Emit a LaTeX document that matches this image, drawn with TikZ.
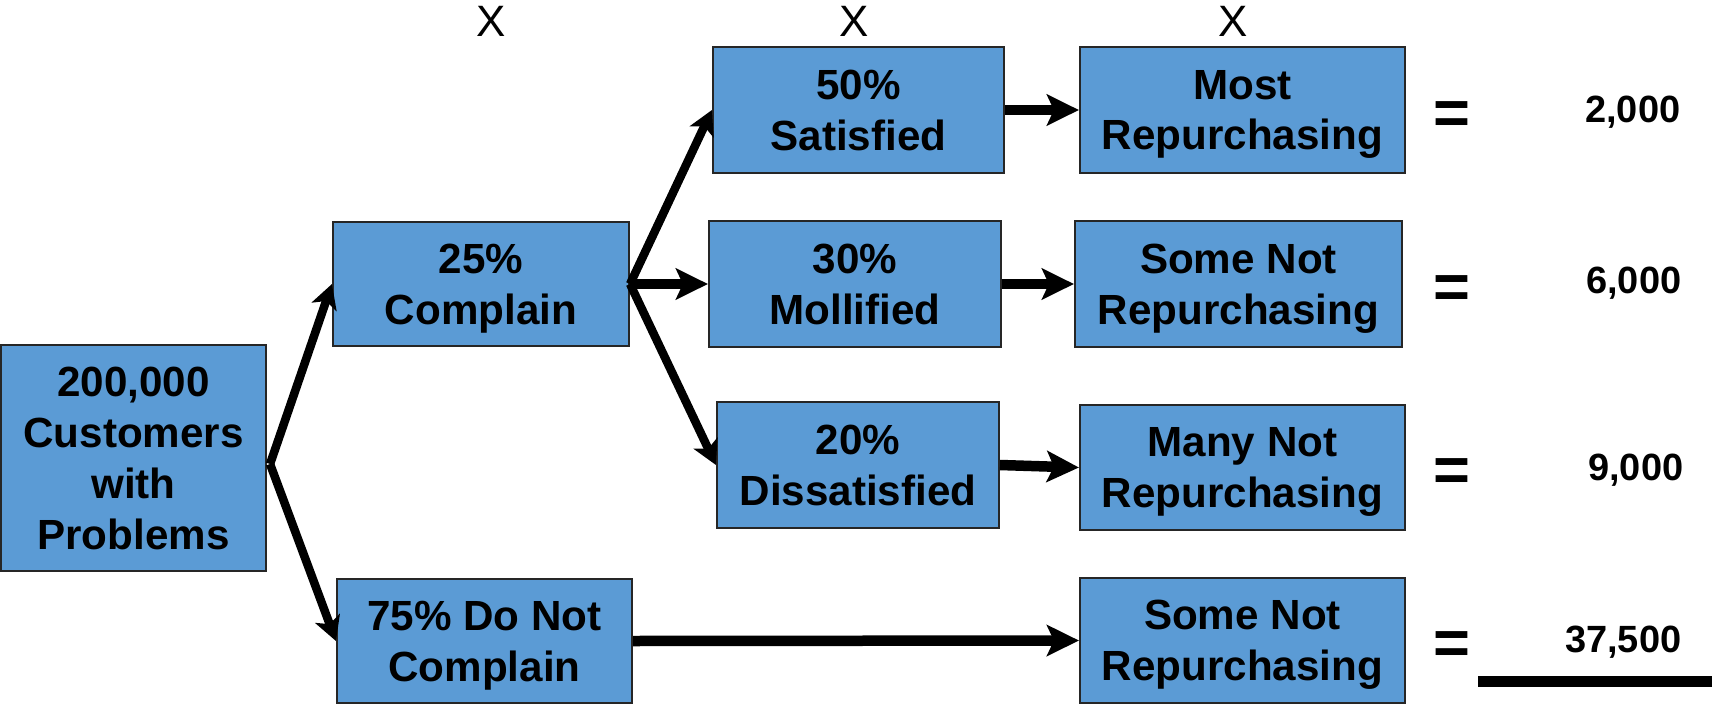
\documentclass[tikz,border=0pt]{standalone}
\usepackage{fontspec}
\setmainfont{Liberation Sans}
\usepackage{xcolor}
\usepackage{tikz}
\usetikzlibrary{arrows.meta, positioning}

\definecolor{boxblue}{HTML}{5B9BD5}

\begin{document}
\begin{tikzpicture}[
  box/.style={rectangle, draw=black!85, line width=0.6pt, fill=boxblue, align=center, inner sep=0pt,
    text depth=0pt, font=\bfseries\fontsize{12}{14.5}\selectfont},
  flow/.style={-{Stealth[length=2.4mm, width=2.6mm, inset=0.6mm]}, line width=0.85mm},
  bigflow/.style={-{Stealth[length=3.2mm, width=3.1mm, inset=0.7mm]}, line width=1.05mm},
  times/.style={font=\fontsize{12.5}{14}\selectfont, inner sep=0pt},
  equals/.style={font=\bfseries\fontsize{18}{20}\selectfont, inner sep=0pt},
  result/.style={font=\bfseries\fontsize{10.8}{13}\selectfont, inner sep=0pt, anchor=east}
]
\useasboundingbox (0,0) rectangle (17.16,7.06);

% Boxes
\node[box, minimum width=2.65cm, minimum height=2.26cm] (total) at (1.335,2.48) {200,000\\Customers\\with\\Problems};
\node[box, minimum width=2.96cm, minimum height=1.24cm] (complain) at (4.81,4.22) {25\%\\Complain};
\node[box, minimum width=2.95cm, minimum height=1.24cm] (nocomplain) at (4.845,0.65) {75\% Do Not\\Complain};
\node[box, minimum width=2.91cm, minimum height=1.26cm] (satisfied) at (8.585,5.96) {50\%\\Satisfied};
\node[box, minimum width=2.92cm, minimum height=1.26cm] (mollified) at (8.55,4.22) {30\%\\Mollified};
\node[box, minimum width=2.82cm, minimum height=1.26cm] (dissatisfied) at (8.58,2.41) {20\%\\Dissatisfied};
\node[box, minimum width=3.25cm, minimum height=1.26cm] (most) at (12.425,5.96) {Most\\Repurchasing};
\node[box, minimum width=3.27cm, minimum height=1.26cm] (some) at (12.385,4.22) {Some Not\\Repurchasing};
\node[box, minimum width=3.25cm, minimum height=1.25cm] (many) at (12.425,2.385) {Many Not\\Repurchasing};
\node[box, minimum width=3.25cm, minimum height=1.25cm] (someb) at (12.425,0.655) {Some Not\\Repurchasing};

% Multipliers
\node[times] (x1) at (4.91,6.85) {X};
\node[times] (x2) at (8.54,6.85) {X};
\node[times] (x3) at (12.33,6.85) {X};

% Results
\node[equals] (eq1) at (14.52,5.88) {=};
\node[equals] (eq2) at (14.52,4.14) {=};
\node[equals] (eq3) at (14.52,2.31) {=};
\node[equals] (eq4) at (14.52,0.58) {=};
\node[result] (r1) at (16.81,5.94) {2,000};
\node[result] (r2) at (16.82,4.23) {6,000};
\node[result] (r3) at (16.84,2.36) {9,000};
\node[result] (r4) at (16.82,0.64) {37,500};
\draw[line width=1.1mm] (14.78,0.25) -- (17.12,0.25);

% Arrows
\coordinate[below right=0.06cm and 0.03cm of total.east] (fork);
\draw[flow] (fork) -- (complain.west);
\draw[flow] (fork) -- (nocomplain.west);
\draw[flow] (complain.east) -- (satisfied.west);
\draw[bigflow] (complain.east) -- (mollified.west);
\draw[flow] (complain.east) -- (dissatisfied.west);
\draw[bigflow] (satisfied.east) -- (most.west);
\draw[bigflow] (mollified.east) -- (some.west);
\draw[bigflow] (dissatisfied.east) -- (many.west);
\draw[bigflow] (nocomplain.east) -- (someb.west);

\end{tikzpicture}
\end{document}
